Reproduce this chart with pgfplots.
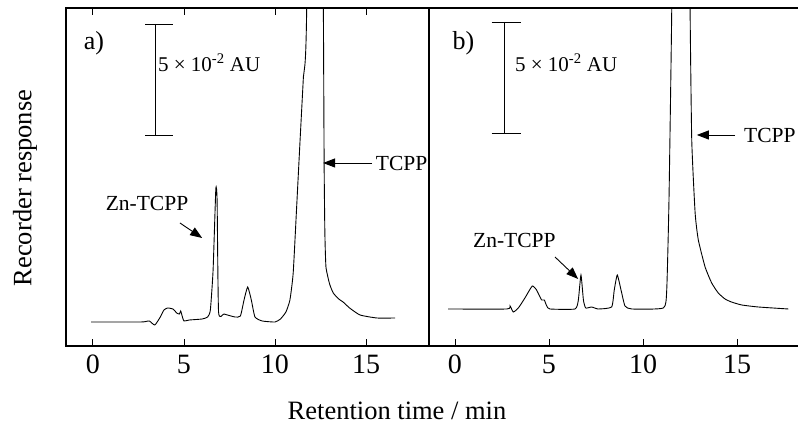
\documentclass[border=0pt]{standalone}
\usepackage{fontspec}
\setmainfont{Liberation Serif}
\usepackage{graphicx}
\usepackage{pgfplots}
\pgfplotsset{compat=1.18}
\usetikzlibrary{arrows.meta}
\newcommand\cx[1]{{\fontsize{28}{28}\selectfont #1}}
\tikzset{arr/.style={line width=0.9pt, -{Triangle[length=12pt,width=9pt]}}}
\pgfplotsset{
  chrom/.style={
    scale only axis, height=338pt, ymin=0, ymax=338,
    ytick=\empty, xtick={0,5,10,15},
    xticklabels={\cx{0},\cx{5},\cx{10},\cx{15}},
    xticklabel style={inner sep=0pt, yshift=-9pt},
    tick align=inside, major tick length=7pt,
    tick style={black, line width=0.9pt},
    axis line style={line width=1.3pt},
    clip mode=individual,
  },
  trace/.style={black, no markers, line width=0.9pt, smooth, tension=0.3},
}
\pgfplotstableread{
t y
-0.1 24
2.6 24
2.9 24.5
3.1 25
3.4 21
3.7 29
3.9 36
4.1 38
4.4 37
4.6 33
4.75 32
4.82 35
4.9 30
5.0 25
5.3 26
6.0 27
6.3 29
6.45 36
6.6 76
6.75 157
6.82 146
6.9 34
7.2 32
7.8 29
8.1 30
8.3 46
8.5 59
8.7 46
8.9 29
9.3 25
10.0 24
10.3 27
10.6 34
10.82 46
11.0 73
11.19 139
11.37 203
11.56 269
11.74 336
12.2 1100
12.62 420
12.66 330
12.7 180
12.74 113
12.8 79
13.0 62
13.2 53
13.5 47
13.74 44
14.1 38
14.67 31
15.6 28
16.6 28
}\dataA
\pgfplotstableread{
t y
-0.36 37
2.75 37
2.93 40
3.1 34
3.37 38
3.72 48
4.11 60
4.34 56
4.47 51
4.61 46
4.75 46
4.88 40
5.05 37
6.38 37
6.56 46
6.7 71
6.83 46
6.95 38
7.27 39
7.62 37
8.33 39
8.47 56
8.63 71
8.83 56
9.04 40
9.4 37
11.08 38
11.26 56
11.38 146
11.52 326
11.6 500
12.0 1200
12.45 500
12.5 340
12.59 206
12.77 133
12.94 106
13.3 79
13.65 63
14.0 53
14.36 47
14.7 44
15.25 41
16.13 39
17.73 37
}\dataB
\begin{document}
\begin{tikzpicture}[x=1pt,y=1pt]
\useasboundingbox (0,0) rectangle (798,427);
% panel a
\begin{axis}[chrom, at={(66pt,81pt)}, anchor=south west, width=363pt,
  xmin=-1.48, xmax=18.46]
\addplot[trace] table[x=t,y=y] {\dataA};
\draw[line width=0.9pt] (axis cs:3.46,322) -- (axis cs:3.46,211);
\draw[line width=0.9pt] (axis cs:2.86,322) -- (axis cs:4.40,322);
\draw[line width=0.9pt] (axis cs:2.86,211) -- (axis cs:4.40,211);
\node[anchor=west, font=\fontsize{21}{21}\selectfont, inner sep=0] at (axis cs:3.57,283) {5 × 10\textsuperscript{-2} AU};
\node[font=\fontsize{26}{26}\selectfont] at (axis cs:0.05,303) {a)};
\node[anchor=east, font=\fontsize{21.5}{21.5}\selectfont, inner sep=0] at (axis cs:18.38,183) {TCPP};
\draw[arr] (axis cs:15.33,183) -- (axis cs:12.64,183);
\node[font=\fontsize{21.5}{21.5}\selectfont] at (axis cs:2.97,143) {Zn-TCPP};
\draw[arr] (axis cs:4.78,123) -- (axis cs:6.0,108);
\end{axis}
% panel b
\begin{axis}[chrom, at={(429pt,81pt)}, anchor=south west, width=369pt,
  xmin=-1.38, xmax=18.24, axis x line*=bottom, axis y line*=left]
\addplot[trace] table[x=t,y=y] {\dataB};
\draw[line width=1.3pt] (rel axis cs:0,1) -- (rel axis cs:1,1);
\draw[line width=0.9pt] (axis cs:2.62,324) -- (axis cs:2.62,213);
\draw[line width=0.9pt] (axis cs:1.95,324) -- (axis cs:3.51,324);
\draw[line width=0.9pt] (axis cs:1.95,213) -- (axis cs:3.51,213);
\node[anchor=west, font=\fontsize{21}{21}\selectfont, inner sep=0] at (axis cs:3.19,283) {5 × 10\textsuperscript{-2} AU};
\node[font=\fontsize{26}{26}\selectfont] at (axis cs:0.45,303) {b)};
\node[anchor=east, font=\fontsize{21.5}{21.5}\selectfont, inner sep=0] at (axis cs:18.12,211) {TCPP};
\draw[arr] (axis cs:14.89,211) -- (axis cs:12.86,211);
\node[font=\fontsize{21.5}{21.5}\selectfont] at (axis cs:3.16,106) {Zn-TCPP};
\draw[arr] (axis cs:5.32,89) -- (axis cs:6.55,67);
\end{axis}
\node[rotate=90, font=\fontsize{26.5}{26.5}\selectfont] at (25,239) {Recorder response};
\node[font=\fontsize{26.5}{26.5}\selectfont] at (397,16) {Retention time / min};
\end{tikzpicture}
\end{document}
